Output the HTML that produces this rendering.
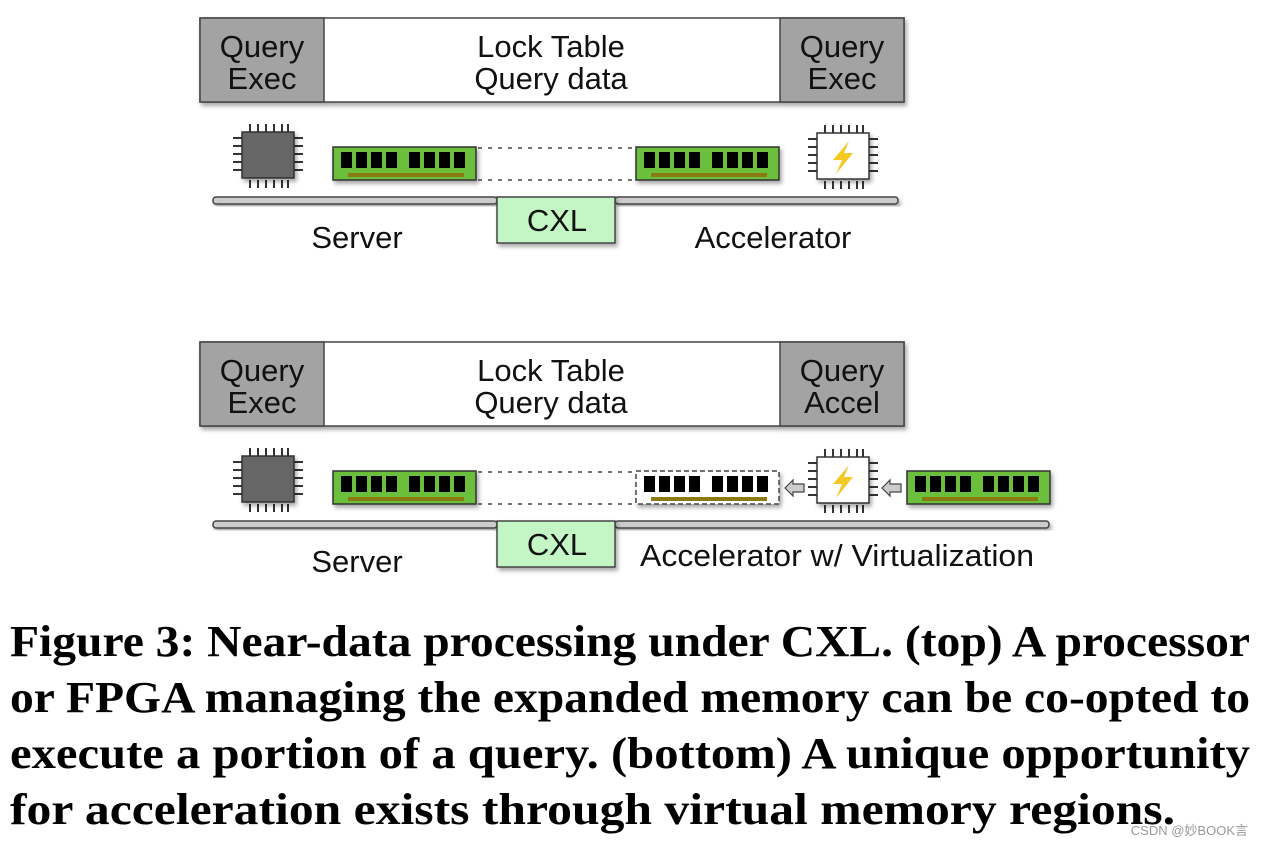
<!DOCTYPE html>
<html><head><meta charset="utf-8"><style>
html,body{margin:0;padding:0;background:#fff;width:1264px;height:848px;overflow:hidden}
svg{display:block}
.s{font-family:"Liberation Sans",sans-serif;font-size:31px;fill:#111}
.c{font-family:"Liberation Serif",serif;font-weight:bold;font-size:44px;fill:#000}
</style></head><body>
<svg width="1264" height="848" viewBox="0 0 1264 848">
<defs>
<filter id="sh" x="-10%" y="-10%" width="130%" height="140%"><feDropShadow dx="2" dy="3" stdDeviation="2" flood-color="#000" flood-opacity="0.35"/></filter>
<g id="pins" stroke="#333" stroke-width="2">
  <path d="M-18,-32v8M-10,-32v8M-2,-32v8M6,-32v8M14,-32v8M20,-32v8"/>
  <path d="M-18,24v8M-10,24v8M-2,24v8M6,24v8M14,24v8M20,24v8"/>
  <path d="M-35,-18h9M-35,-10h9M-35,-2h9M-35,6h9M-35,14h9"/>
  <path d="M26,-18h9M26,-10h9M26,-2h9M26,6h9M26,14h9"/>
</g>
<g id="cpu"><use href="#pins"/><rect x="-26" y="-24" width="52" height="46" fill="#666" stroke="#333" stroke-width="1.5" filter="url(#sh)"/></g>
<g id="acc"><use href="#pins"/><rect x="-26" y="-24" width="52" height="46" fill="#fff" stroke="#333" stroke-width="1.5" filter="url(#sh)"/>
  <path d="M6,-16 L-10,3 L-1,3 L-7,17 L10,-4 L1,-4 Z" fill="#f6c824"/></g>
<g id="chips" fill="#000">
  <rect x="8" y="5" width="11" height="16"/><rect x="23" y="5" width="11" height="16"/><rect x="38" y="5" width="11" height="16"/><rect x="53" y="5" width="11" height="16"/>
  <rect x="76" y="5" width="11" height="16"/><rect x="91" y="5" width="11" height="16"/><rect x="106" y="5" width="11" height="16"/><rect x="121" y="5" width="11" height="16"/>
  <rect x="15" y="26" width="116" height="4" fill="#8a7a10"/>
</g>
<g id="ram"><rect x="0" y="0" width="143" height="33" fill="#6cbf3c" stroke="#333" stroke-width="1.5" filter="url(#sh)"/><use href="#chips"/></g>
<g id="ramd"><rect x="0" y="0" width="143" height="33" fill="#fff" stroke="#444" stroke-width="1.5" stroke-dasharray="5,3" filter="url(#sh)"/><use href="#chips"/></g>
</defs>

<!-- TOP -->
<g filter="url(#sh)">
<rect x="200" y="18" width="704" height="84" fill="#fff" stroke="#444" stroke-width="1.5"/>
<rect x="200" y="18" width="124" height="84" fill="#a3a3a3" stroke="#444" stroke-width="1.5"/>
<rect x="780" y="18" width="124" height="84" fill="#a3a3a3" stroke="#444" stroke-width="1.5"/>
</g>
<text class="s" x="262" y="57" text-anchor="middle">Query</text>
<text class="s" x="262" y="89" text-anchor="middle">Exec</text>
<text class="s" x="551" y="57" text-anchor="middle">Lock Table</text>
<text class="s" x="551" y="89" text-anchor="middle">Query data</text>
<text class="s" x="842" y="57" text-anchor="middle">Query</text>
<text class="s" x="842" y="89" text-anchor="middle">Exec</text>
<use href="#cpu" x="268" y="156"/>
<use href="#ram" x="333" y="147"/>
<path d="M478,148H636M478,180H636" stroke="#444" stroke-width="1.5" stroke-dasharray="4,6"/>
<use href="#ram" x="636" y="147"/>
<use href="#acc" x="843" y="157"/>
<rect x="213" y="197" width="284" height="7" rx="3" fill="#ccc" stroke="#444" stroke-width="1.5" filter="url(#sh)"/>
<rect x="615" y="197" width="283" height="7" rx="3" fill="#ccc" stroke="#444" stroke-width="1.5" filter="url(#sh)"/>
<rect x="497" y="197" width="118" height="46" fill="#c4f5c4" stroke="#444" stroke-width="1.5" filter="url(#sh)"/>
<text class="s" x="557" y="231" text-anchor="middle">CXL</text>
<text class="s" x="357" y="248" text-anchor="middle">Server</text>
<text class="s" x="773" y="248" text-anchor="middle">Accelerator</text>

<!-- BOTTOM -->
<g filter="url(#sh)">
<rect x="200" y="342" width="704" height="84" fill="#fff" stroke="#444" stroke-width="1.5"/>
<rect x="200" y="342" width="124" height="84" fill="#a3a3a3" stroke="#444" stroke-width="1.5"/>
<rect x="780" y="342" width="124" height="84" fill="#a3a3a3" stroke="#444" stroke-width="1.5"/>
</g>
<text class="s" x="262" y="381" text-anchor="middle">Query</text>
<text class="s" x="262" y="413" text-anchor="middle">Exec</text>
<text class="s" x="551" y="381" text-anchor="middle">Lock Table</text>
<text class="s" x="551" y="413" text-anchor="middle">Query data</text>
<text class="s" x="842" y="381" text-anchor="middle">Query</text>
<text class="s" x="842" y="413" text-anchor="middle">Accel</text>
<use href="#cpu" x="268" y="480"/>
<use href="#ram" x="333" y="471"/>
<path d="M478,472H636M478,504H636" stroke="#444" stroke-width="1.5" stroke-dasharray="4,6"/>
<use href="#ramd" x="636" y="471"/>
<path d="M785,488 l8,-8 v4 h11 v8 h-11 v4 z" fill="#ccc" stroke="#444" stroke-width="1.2"/>
<use href="#acc" x="843" y="481"/>
<path d="M882,488 l8,-8 v4 h11 v8 h-11 v4 z" fill="#ccc" stroke="#444" stroke-width="1.2"/>
<use href="#ram" x="907" y="471"/>
<rect x="213" y="521" width="284" height="7" rx="3" fill="#ccc" stroke="#444" stroke-width="1.5" filter="url(#sh)"/>
<rect x="615" y="521" width="434" height="7" rx="3" fill="#ccc" stroke="#444" stroke-width="1.5" filter="url(#sh)"/>
<rect x="497" y="521" width="118" height="46" fill="#c4f5c4" stroke="#444" stroke-width="1.5" filter="url(#sh)"/>
<text class="s" x="557" y="555" text-anchor="middle">CXL</text>
<text class="s" x="357" y="572" text-anchor="middle">Server</text>
<text class="s" x="640" y="566" textLength="394" lengthAdjust="spacingAndGlyphs">Accelerator w/ Virtualization</text>

<!-- CAPTION -->
<text class="c" x="10" y="656" textLength="1240" lengthAdjust="spacingAndGlyphs">Figure 3: Near-data processing under CXL. (top) A processor</text>
<text class="c" x="10" y="712" textLength="1240" lengthAdjust="spacingAndGlyphs">or FPGA managing the expanded memory can be co-opted to</text>
<text class="c" x="10" y="768" textLength="1240" lengthAdjust="spacingAndGlyphs">execute a portion of a query. (bottom) A unique opportunity</text>
<text class="c" x="10" y="824" textLength="1165" lengthAdjust="spacingAndGlyphs">for acceleration exists through virtual memory regions.</text>
<text x="1248" y="835" text-anchor="end" font-family="'Liberation Sans','Noto Sans CJK SC',sans-serif" font-size="13" fill="#999">CSDN @妙BOOK言</text>
</svg>
</body></html>
